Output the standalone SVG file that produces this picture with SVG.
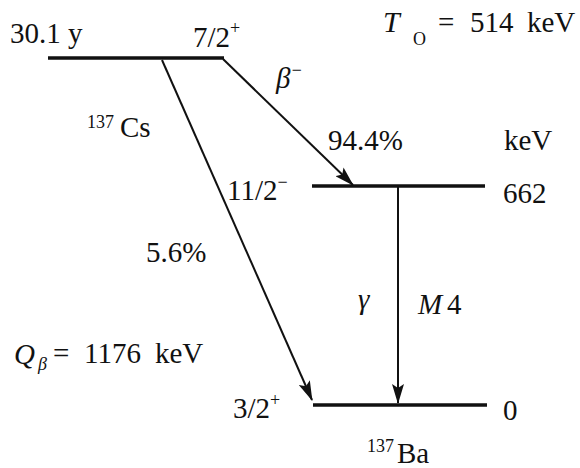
<svg xmlns="http://www.w3.org/2000/svg" width="580" height="468" viewBox="0 0 580 468">
<defs>
<marker id="ah" markerWidth="20" markerHeight="12" refX="19" refY="6" orient="auto" markerUnits="userSpaceOnUse">
<path d="M0,0 L20,6 L0,12 L4,6 Z" fill="#111"/>
</marker>
</defs>
<style>
text{font-family:"Liberation Serif","Times New Roman",serif;font-size:29px;fill:#111}
.it{font-style:italic}
.sup{font-size:18px}
.lvl{stroke:#111;stroke-width:3.5;fill:none}
.tr{stroke:#111;stroke-width:2;fill:none;marker-end:url(#ah)}
</style>
<rect width="580" height="468" fill="#fff"/>
<g id="cs137">
<line class="lvl" x1="48" y1="58" x2="224" y2="58"/>
<text x="10" y="43">30.1 y</text>
<text x="193" y="47">7/2<tspan class="sup" dy="-13">+</tspan></text>
<text x="87" y="137"><tspan class="sup" dy="-9">137</tspan><tspan x="120" dy="9">Cs</tspan></text>
</g>
<g id="ba662">
<line class="lvl" x1="312" y1="186" x2="485" y2="186"/>
<text x="227" y="200">11/2<tspan class="sup" dy="-12">−</tspan></text>
<text x="503" y="203">662</text>
<text x="504" y="150">keV</text>
</g>
<g id="ba0">
<line class="lvl" x1="313" y1="405" x2="487" y2="405"/>
<text x="233" y="418">3/2<tspan class="sup" dy="-12">+</tspan></text>
<text x="503" y="420">0</text>
<text x="367" y="463"><tspan class="sup" dy="-11">137</tspan><tspan x="397" dy="11">Ba</tspan></text>
</g>
<g id="labels">
<text class="it" x="383" y="32" style="font-size:30px">T</text>
<text class="sup" x="413" y="45">O</text>
<text x="438" y="32">=</text>
<text x="470" y="32">514</text>
<text x="527" y="32">keV</text>
<text class="it" x="14" y="364">Q</text>
<text class="sup it" x="38" y="370">β</text>
<text x="53" y="363">=</text>
<text x="84" y="363">1176</text>
<text x="155" y="363">keV</text>
</g>
<g id="connectors">
<line class="tr" x1="223" y1="59" x2="353" y2="185"/>
<text class="it" x="276" y="88">β<tspan class="sup" dy="-12">−</tspan></text>
<text x="328" y="150">94.4%</text>
<line class="tr" x1="162" y1="60" x2="312" y2="400"/>
<text x="146" y="262">5.6%</text>
<line class="tr" x1="398" y1="187" x2="398" y2="403"/>
<text class="it" x="358" y="309">γ</text>
<text class="it" x="418" y="314">M</text>
<text x="447" y="314">4</text>
</g>
</svg>
